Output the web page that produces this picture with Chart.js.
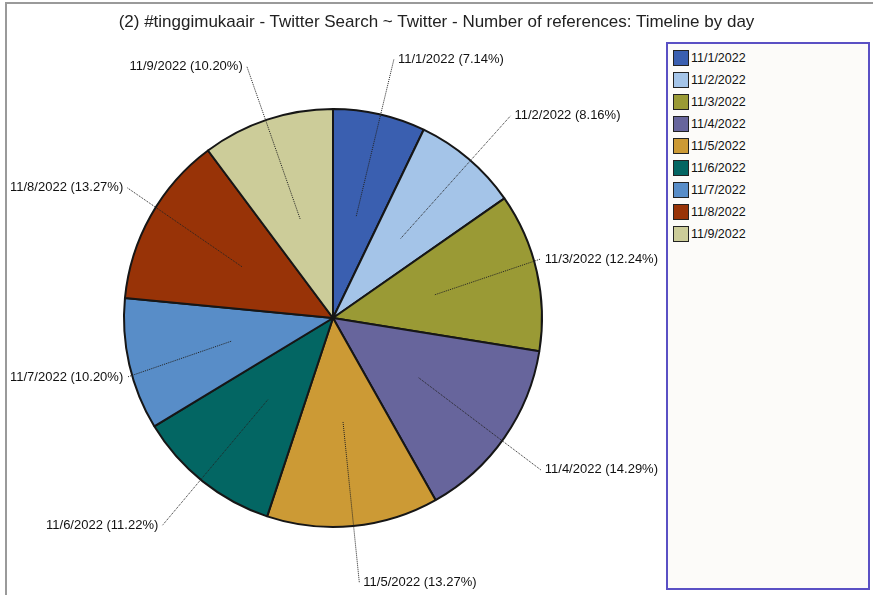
<!DOCTYPE html>
<html>
<head>
<meta charset="utf-8">
<script src="https://cdn.jsdelivr.net/npm/chart.js@4.4.0/dist/chart.umd.min.js"></script>
<style>
  body { margin: 0; background: #fff; font-family: "Liberation Sans", Arial, sans-serif; }
  #wrap { position: relative; width: 873px; height: 595px; overflow: hidden; }
  #frame { position: absolute; left: 5px; top: 2px; right: -4px; bottom: -4px; border-left: 2px solid #9a9a9a; border-top: 2px solid #9a9a9a; }
  #title { position: absolute; left: 0; top: 12px; width: 873px; text-align: center; font-size: 17px; color: #222; }
  #js--chart { position: absolute; left: 0; top: 0; }
  #legend { position: absolute; left: 666px; top: 42px; width: 200px; height: 544px; border: 2px solid #5a50c4; background: #fcfbf9; }
  .item { position: absolute; left: 5px; height: 16px; font-size: 12.5px; color: #111; line-height: 16px; }
  .sw { display: inline-block; width: 14px; height: 14px; border: 1px solid #222; vertical-align: top; margin-right: 2px; }
</style>
</head>
<body>
<div id="wrap">
  <div id="frame"></div>
  <canvas id="js--chart" width="873" height="595"></canvas>
  <div id="title">(2) #tinggimukaair - Twitter Search ~ Twitter - Number of references: Timeline by day</div>
  <div id="legend"></div>
</div>
<script>
const days = ["11/1/2022", "11/2/2022", "11/3/2022", "11/4/2022", "11/5/2022", "11/6/2022", "11/7/2022", "11/8/2022", "11/9/2022"];
const refs = [7, 8, 12, 14, 13, 11, 10, 13, 10];
const colors = ["#3a5fb0", "#a4c4e8", "#9a9a35", "#67659c", "#cc9a35", "#036663", "#588dc8", "#983307", "#cccc99"];

const total = refs.reduce((a, b) => a + b, 0);

// legend as html
const legend = document.getElementById("legend");
days.forEach(function (d, i) {
  const row = document.createElement("div");
  row.className = "item";
  row.style.top = (6 + i * 22) + "px";
  row.innerHTML = '<span class="sw" style="background:' + colors[i] + '"></span>' + d;
  legend.appendChild(row);
});

// dotted leader lines + labels outside the pie
const leaderLabels = {
  id: "leaderLabels",
  afterDatasetsDraw(chart) {
    const ctx = chart.ctx;
    const arcs = chart.getDatasetMeta(0).data;
    ctx.save();
    ctx.font = "13px 'Liberation Sans', Arial, sans-serif";
    ctx.textBaseline = "middle";
    ctx.fillStyle = "#111";
    arcs.forEach(function (arc, i) {
      const mid = (arc.startAngle + arc.endAngle) / 2;
      const r = arc.outerRadius;
      const cx = arc.x, cy = arc.y;
      const x1 = cx + Math.cos(mid) * r * 0.5;
      const y1 = cy + Math.sin(mid) * r * 0.5;
      let x2 = cx + Math.cos(mid) * r * 1.31;
      const y2 = cy + Math.sin(mid) * r * 1.27;
      const text = days[i] + " (" + (refs[i] / total * 100).toFixed(2) + "%)";
      const w = ctx.measureText(text).width;
      const right = Math.cos(mid) >= 0;
      if (right && x2 + 4 + w > 658) x2 = 658 - 4 - w;
      if (!right && x2 - 4 - w < 10) x2 = 10 + 4 + w;
      ctx.strokeStyle = "#222";
      ctx.lineWidth = 1;
      ctx.setLineDash([1, 1]);
      ctx.beginPath();
      ctx.moveTo(x1, y1);
      ctx.lineTo(x2, y2);
      ctx.stroke();
      ctx.setLineDash([]);
      ctx.textAlign = right ? "left" : "right";
      ctx.fillText(text, right ? x2 + 4 : x2 - 4, y2);
    });
    ctx.restore();
  }
};

const config = {
  type: "pie",
  data: {
    labels: days,
    datasets: [
      {
        label: "references",
        data: refs,
        backgroundColor: colors,
        borderColor: "#161616",
        borderWidth: 2
      }
    ]
  },
  options: {
    responsive: false,
    animation: false,
    layout: { padding: { left: 0, right: 207, top: 108, bottom: 67 } },
    plugins: {
      legend: { display: false },
      title: { display: false },
      tooltip: { enabled: false }
    }
  },
  plugins: [leaderLabels]
};

const chart = new Chart(document.getElementById("js--chart"), config);
</script>
</body>
</html>
